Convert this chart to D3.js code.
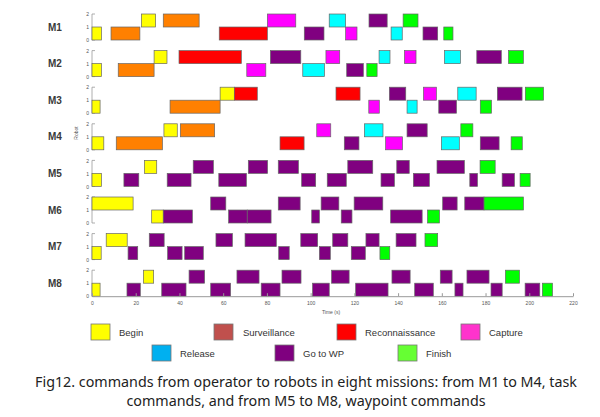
<!DOCTYPE html>
<html>
<head>
<meta charset="utf-8">
<script src="https://cdn.jsdelivr.net/npm/d3@7"></script>
<style>
  body { margin: 0; background: #fff; }
  svg { display: block; }
</style>
</head>
<body>
<svg id="chart"></svg>
<script>
// task types: code, legend name, bar colour, legend colour
const typeCodes = ['B', 'S', 'R', 'C', 'L', 'G', 'F'];
const typeNames = ['Begin', 'Surveillance', 'Reconnaissance', 'Capture', 'Release', 'Go to WP', 'Finish'];
const barColors = ['#ffff00', '#ff8000', '#ff0000', '#ff00ff', '#00ffff', '#800080', '#00ff00'];
const legendColors = ['#ffff00', '#c0504d', '#ff0000', '#ff33cc', '#00b0f0', '#7f007f', '#66ff33'];

const missions = ['M1', 'M2', 'M3', 'M4', 'M5', 'M6', 'M7', 'M8'];
const xTicks = [0, 20, 40, 60, 80, 100, 120, 140, 160, 180, 200, 220];
const robotTicks = [0, 1, 2];

// [robot, start (s), end (s), type]
const m1 = [
  [0, 0, 4.3, 'B'], [0, 8.7, 21.9, 'S'], [0, 58.2, 80.2, 'R'], [0, 97.1, 106.1, 'G'], [0, 116, 121.2, 'C'],
  [0, 136.8, 141.9, 'L'], [0, 151.4, 158.1, 'G'], [0, 160.9, 165.1, 'F'],
  [1, 22.6, 29.1, 'B'], [1, 32.6, 49, 'S'], [1, 80.2, 93.2, 'C'], [1, 108.5, 116, 'L'], [1, 126.7, 135, 'G'],
  [1, 142.3, 149.1, 'F']
];
const m2 = [
  [0, 0, 4.3, 'B'], [0, 12, 28.4, 'S'], [0, 70.8, 79.5, 'C'], [0, 96.4, 106.3, 'L'], [0, 116.5, 124.1, 'G'],
  [0, 125.7, 130.4, 'F'],
  [1, 28.4, 34.3, 'B'], [1, 39.8, 68.3, 'R'], [1, 81.6, 95.5, 'G'], [1, 107, 113.3, 'C'], [1, 131.3, 136.3, 'L'],
  [1, 142.9, 148.2, 'C'], [1, 161.2, 168.5, 'L'], [1, 176, 187.2, 'G'], [1, 190.5, 197.3, 'F']
];
const m3 = [
  [0, 0, 3.7, 'B'], [0, 35.7, 58.6, 'S'], [0, 126.6, 131.4, 'C'], [0, 144.1, 148.7, 'L'], [0, 158.6, 166.7, 'G'],
  [0, 177.6, 182.7, 'F'],
  [1, 58.6, 65.1, 'B'], [1, 65.1, 75.6, 'R'], [1, 111.6, 122.6, 'R'], [1, 136, 143.5, 'G'], [1, 151.6, 157.5, 'C'],
  [1, 167.3, 175.7, 'L'], [1, 185.4, 196.7, 'G'], [1, 198.2, 206.5, 'F']
];
const m4 = [
  [0, 0, 5.4, 'B'], [0, 11.1, 32.2, 'S'], [0, 86, 97, 'R'], [0, 115.4, 122.1, 'G'], [0, 134.3, 142, 'C'],
  [0, 159.8, 168, 'L'], [0, 177.6, 186.2, 'G'], [0, 191.7, 196.8, 'F'],
  [1, 32.9, 39, 'B'], [1, 40.4, 56.1, 'S'], [1, 102.8, 109.2, 'C'], [1, 124.6, 133.1, 'L'], [1, 144.1, 153.3, 'G'],
  [1, 168.7, 174.2, 'F']
];
const m5 = [
  [0, 0, 4.3, 'B'], [0, 14.6, 21.4, 'G'], [0, 34.4, 45.3, 'G'], [0, 58, 70.6, 'G'], [0, 95.9, 102.3, 'G'],
  [0, 107.6, 116.3, 'G'], [0, 132.2, 138.3, 'G'], [0, 147, 154.3, 'G'], [0, 172.8, 176.3, 'G'],
  [0, 187.6, 193.2, 'G'], [0, 195.8, 200.4, 'F'],
  [1, 24, 29.6, 'B'], [1, 46.3, 55.5, 'G'], [1, 71.5, 80.3, 'G'], [1, 85.2, 94.4, 'G'], [1, 117, 128.4, 'G'],
  [1, 139.4, 145.1, 'G'], [1, 157.8, 170.3, 'G'], [1, 177.5, 184.4, 'F']
];
const m6 = [
  [0, 27.3, 32.6, 'B'], [0, 32.6, 45.9, 'G'], [0, 62.5, 71, 'G'], [0, 71, 81.9, 'G'], [0, 100.5, 104, 'G'],
  [0, 114, 118.9, 'G'], [0, 136.6, 151, 'G'], [0, 153.5, 158.9, 'F'],
  [1, 0, 18.8, 'B'], [1, 54.3, 61.2, 'G'], [1, 85.2, 95.2, 'G'], [1, 104.8, 112.9, 'G'], [1, 119.9, 133, 'G'],
  [1, 160.4, 167, 'G'], [1, 170.5, 179.3, 'G'], [1, 179.3, 197.3, 'F']
];
const m7 = [
  [0, 0, 4.2, 'B'], [0, 16.5, 20.9, 'G'], [0, 34.6, 41.2, 'G'], [0, 42.4, 50.9, 'G'], [0, 85.4, 90.2, 'G'],
  [0, 104, 109, 'G'], [0, 118.6, 125, 'G'], [0, 131.7, 136.2, 'F'],
  [1, 6.5, 16.1, 'B'], [1, 26.2, 33, 'G'], [1, 56.7, 64.2, 'G'], [1, 70, 84.3, 'G'], [1, 95.5, 103.2, 'G'],
  [1, 110.1, 117, 'G'], [1, 125.3, 131.3, 'G'], [1, 139.1, 148.2, 'G'], [1, 152.3, 158.1, 'F']
];
const m8 = [
  [0, 0, 3.7, 'B'], [0, 16, 22.1, 'G'], [0, 31.9, 43, 'G'], [0, 54.3, 63.4, 'G'], [0, 77.4, 86, 'G'],
  [0, 100.9, 108.5, 'G'], [0, 120.6, 135.4, 'G'], [0, 147.6, 156.1, 'G'], [0, 166, 169.7, 'G'],
  [0, 182.5, 187.6, 'G'], [0, 198.1, 204.8, 'G'], [0, 206, 210.6, 'F'],
  [1, 23.5, 28.2, 'B'], [1, 44.4, 51.5, 'G'], [1, 66.3, 76.4, 'G'], [1, 86.9, 95.6, 'G'], [1, 109.6, 117.6, 'G'],
  [1, 137.2, 145.5, 'G'], [1, 159.3, 164.7, 'G'], [1, 171.5, 181.6, 'G'], [1, 189.1, 195.5, 'F']
];
const missionData = [m1, m2, m3, m4, m5, m6, m7, m8];

const captionLines = [
  'Fig12. commands from operator to robots in eight missions: from M1 to M4, task',
  'commands, and from M5 to M8, waypoint commands'
];

// layout
const width = 600, height = 417;
const panelTop = 14, panelH = 26, panelStep = 36.6;

const svg = d3.select('#chart')
  .attr('width', width)
  .attr('height', height)
  .attr('viewBox', [0, 0, width, height]);

const x = d3.scaleLinear().domain([0, 220]).range([92, 573]);
const color = d3.scaleOrdinal().domain(typeCodes).range(barColors);

missions.forEach((name, i) => {
  const top = panelTop + i * panelStep;
  const y = d3.scaleLinear().domain([0, 2]).range([top + panelH, top]);
  const g = svg.append('g');

  // y axis (robot index)
  g.append('g')
    .attr('transform', 'translate(92,0)')
    .call(d3.axisLeft(y).tickValues(robotTicks).tickFormat(d3.format('d')).tickSize(0).tickPadding(3))
    .call(a => a.select('.domain').remove())
    .call(a => a.selectAll('text').attr('font-size', 5).attr('fill', '#555').attr('font-family', 'Liberation Sans'));
  g.append('path')
    .attr('d', `M95,${y(2)}H92V${y(0)}H95`)
    .attr('fill', 'none')
    .attr('stroke', '#999')
    .attr('stroke-width', 0.8);

  g.selectAll('rect')
    .data(missionData[i])
    .join('rect')
    .attr('x', d => x(d[1]))
    .attr('y', d => y(d[0] + 1))
    .attr('width', d => x(d[2]) - x(d[1]))
    .attr('height', d => y(d[0]) - y(d[0] + 1))
    .attr('fill', d => color(d[3]))
    .attr('stroke', '#666')
    .attr('stroke-width', 0.7);

  g.append('text')
    .attr('x', 48)
    .attr('y', top + panelH / 2 + 3.5)
    .attr('font-family', 'Liberation Sans')
    .attr('font-weight', 'bold')
    .attr('font-size', 10)
    .attr('fill', '#3a3a3a')
    .text(name);
});

// "Robot" label
svg.append('text')
  .attr('transform', 'translate(78,133) rotate(-90)')
  .attr('text-anchor', 'middle')
  .attr('font-family', 'Liberation Sans')
  .attr('font-size', 5)
  .attr('fill', '#555')
  .text('Robot');

// x axis under the last panel
const axisY = panelTop + 7 * panelStep + panelH;
svg.append('g')
  .attr('transform', `translate(0,${axisY})`)
  .call(d3.axisBottom(x).tickValues(xTicks).tickSizeInner(-3).tickSizeOuter(0).tickPadding(5))
  .call(a => a.select('.domain').attr('stroke', '#999'))
  .call(a => a.selectAll('line').attr('stroke', '#999'))
  .call(a => a.selectAll('text').attr('font-size', 5).attr('fill', '#555').attr('font-family', 'Liberation Sans'));

svg.append('text')
  .attr('x', 331)
  .attr('y', 314)
  .attr('text-anchor', 'middle')
  .attr('font-family', 'Liberation Sans')
  .attr('font-size', 5)
  .attr('fill', '#555')
  .text('Time (s)');

// legend: two rows
const legendX = [91, 214, 337, 461, 152, 275, 398];
const legendY = [324, 324, 324, 324, 345, 345, 345];
const leg = svg.append('g')
  .selectAll('g')
  .data(typeNames)
  .join('g')
  .attr('transform', (d, i) => `translate(${legendX[i]},${legendY[i]})`);
leg.append('rect')
  .attr('width', 19)
  .attr('height', 16)
  .attr('fill', (d, i) => legendColors[i])
  .attr('stroke', '#777')
  .attr('stroke-width', 0.8);
leg.append('text')
  .attr('x', (d, i) => i === 1 ? 29 : 28)
  .attr('y', 12)
  .attr('font-family', 'Liberation Sans')
  .attr('font-size', 9.5)
  .attr('fill', '#333')
  .text(d => d);

// caption
svg.append('g')
  .selectAll('text')
  .data(captionLines)
  .join('text')
  .attr('x', 306)
  .attr('y', (d, i) => 387 + i * 19)
  .attr('text-anchor', 'middle')
  .attr('font-family', 'Noto Sans')
  .attr('font-size', 14.3)
  .attr('fill', '#222')
  .text(d => d);
</script>
</body>
</html>
